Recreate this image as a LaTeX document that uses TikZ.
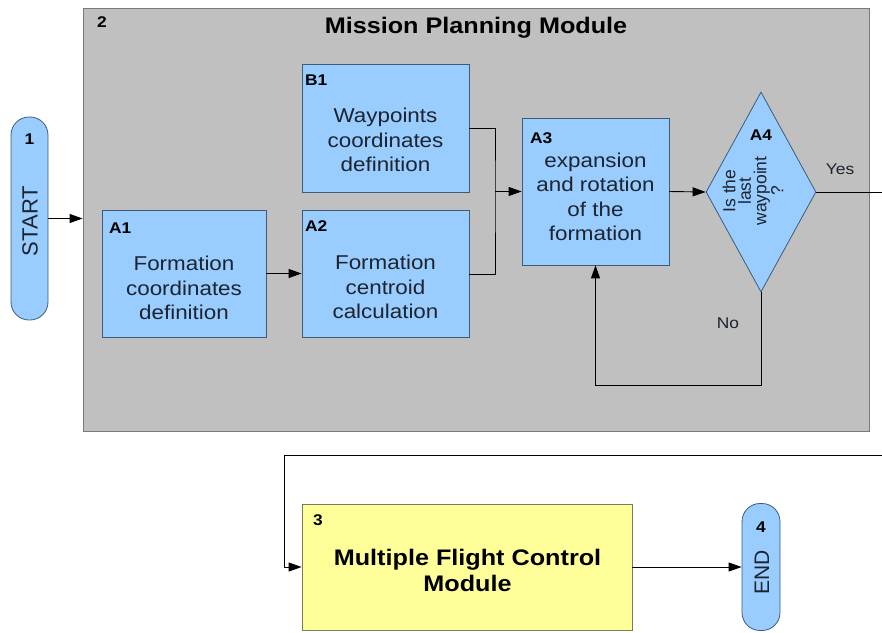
\documentclass[tikz,border=0pt]{standalone}
\usepackage{fontspec}
\setmainfont{Liberation Sans}[FakeStretch=1.12]
\newfontfamily\upsans{Liberation Sans}
\usetikzlibrary{arrows.meta,shapes.geometric,calc}
\definecolor{boxblue}{HTML}{99CCFF}
\definecolor{boxline}{HTML}{3E5C7A}
\definecolor{modgray}{HTML}{C0C0C0}
\definecolor{modline}{HTML}{7A7A7A}
\definecolor{boxyellow}{HTML}{FFFF99}
\definecolor{yline}{HTML}{7A7A5A}
\definecolor{txt}{HTML}{1C2430}
\begin{document}
\begin{tikzpicture}[x=1pt,y=-1pt,
  bluebox/.style={draw=boxline,fill=boxblue,line width=0.8pt,rectangle,inner sep=0pt},
  pill/.style={draw=boxline,fill=boxblue,line width=0.8pt,rectangle,rounded corners=18pt,inner sep=0pt},
  body/.style={align=center,text=txt,font=\fontsize{20}{24.5}\selectfont,inner sep=0pt},
  lab/.style={font=\bfseries\fontsize{15.5}{18}\selectfont,inner sep=0pt,text=black},
  conn/.style={line width=0.9pt,draw=black},
  arr/.style={conn,-{Triangle[length=13pt,width=9pt]}},
  small/.style={font=\fontsize{15.5}{18}\selectfont,inner sep=0pt,text=txt}]
\useasboundingbox (0,0) rectangle (882,632);

% module 2
\node[draw=modline,fill=modgray,line width=0.8pt,minimum width=786pt,minimum height=423pt,inner sep=0pt] (mod) at (476,219.5) {};
\node[lab,anchor=west] (n2) at (97,22) {2};
\node[font=\bfseries\fontsize{22.5}{26}\selectfont,inner sep=0pt] (title) at (476,28) {Mission Planning Module};

% start
\node[pill,minimum width=37pt,minimum height=203pt] (start) at (29.5,218.5) {};
\node[lab] (n1) at (29.5,139) {1};
\node[rotate=90,font=\upsans\fontsize{22}{24}\selectfont,text=txt,inner sep=0pt] (starttxt) at (30,221) {START};

% A1
\node[bluebox,minimum width=164pt,minimum height=127pt] (A1) at (184,273.5) {};
\node[lab,anchor=west] (A1l) at (109,228) {A1};
\node[body] (A1t) at (184,288) {Formation\\coordinates\\definition};

% B1
\node[bluebox,minimum width=167pt,minimum height=128pt] (B1) at (385.5,128) {};
\node[lab,anchor=west] (B1l) at (305,80) {B1};
\node[body] (B1t) at (385.5,140) {Waypoints\\coordinates\\definition};

% A2
\node[bluebox,minimum width=167pt,minimum height=127pt] (A2) at (385.5,274) {};
\node[lab,anchor=west] (A2l) at (305,226) {A2};
\node[body] (A2t) at (385.5,287) {Formation\\centroid\\calculation};

% A3
\node[bluebox,minimum width=147pt,minimum height=147pt] (A3) at (595.5,191.5) {};
\node[lab,anchor=west] (A3l) at (530,138) {A3};
\node[body] (A3t) at (595.5,197) {expansion\\and rotation\\of the\\formation};

% A4
\node[draw=boxline,fill=boxblue,line width=0.8pt,diamond,minimum width=110pt,minimum height=200pt,inner sep=0pt] (A4) at (761,192) {};
\node[lab] (A4l) at (761,135) {A4};
\node[rotate=90,align=center,font=\upsans\fontsize{17.5}{15.5}\selectfont,text=txt,inner sep=0pt] (A4t) at (753,191) {Is the\\last\\waypoint\\?};

% module 3
\node[draw=yline,fill=boxyellow,line width=0.8pt,minimum width=330pt,minimum height=126pt,inner sep=0pt] (M3) at (467,567) {};
\node[lab,anchor=west] (n3) at (313,520) {3};
\node[align=center,font=\bfseries\fontsize{22.5}{26}\selectfont,inner sep=0pt] (M3t) at (467.5,570) {Multiple Flight Control\\Module};

% end
\node[pill,minimum width=38pt,minimum height=127pt] (END) at (761,567) {};
\node[lab] (n4) at (761,527) {4};
\node[rotate=90,font=\upsans\fontsize{21}{24}\selectfont,text=txt,inner sep=0pt] (endtxt) at (762,572) {END};

% connectors
\draw[arr] (start.east) -- (start.east -| mod.west);
\draw[arr] (A1.east) -- (A1.east -| A2.west);
\coordinate (j) at (495,191.5);
\draw[conn] (B1.east) -| (j) |- (A2.east);
\draw[arr] (j) -- (A3.west);
\draw[arr] (A3.east) -- (A4.west);
\coordinate (yesend) at (882,192);
\draw[conn] (A4.east) -- (yesend);
\node[small] (yes) at (840,169) {Yes};
\coordinate (nb) at (595.5,385);
\draw[arr] (A4.south) |- (nb) -- (A3.south);
\node[small] (no) at (728,323) {No};
\coordinate (r2) at (882,455);
\coordinate (l2) at (284,455);
\draw[arr] (r2) -- (l2) |- (M3.west);
\draw[arr] (M3.east) -- (END.west);
\end{tikzpicture}
\end{document}
